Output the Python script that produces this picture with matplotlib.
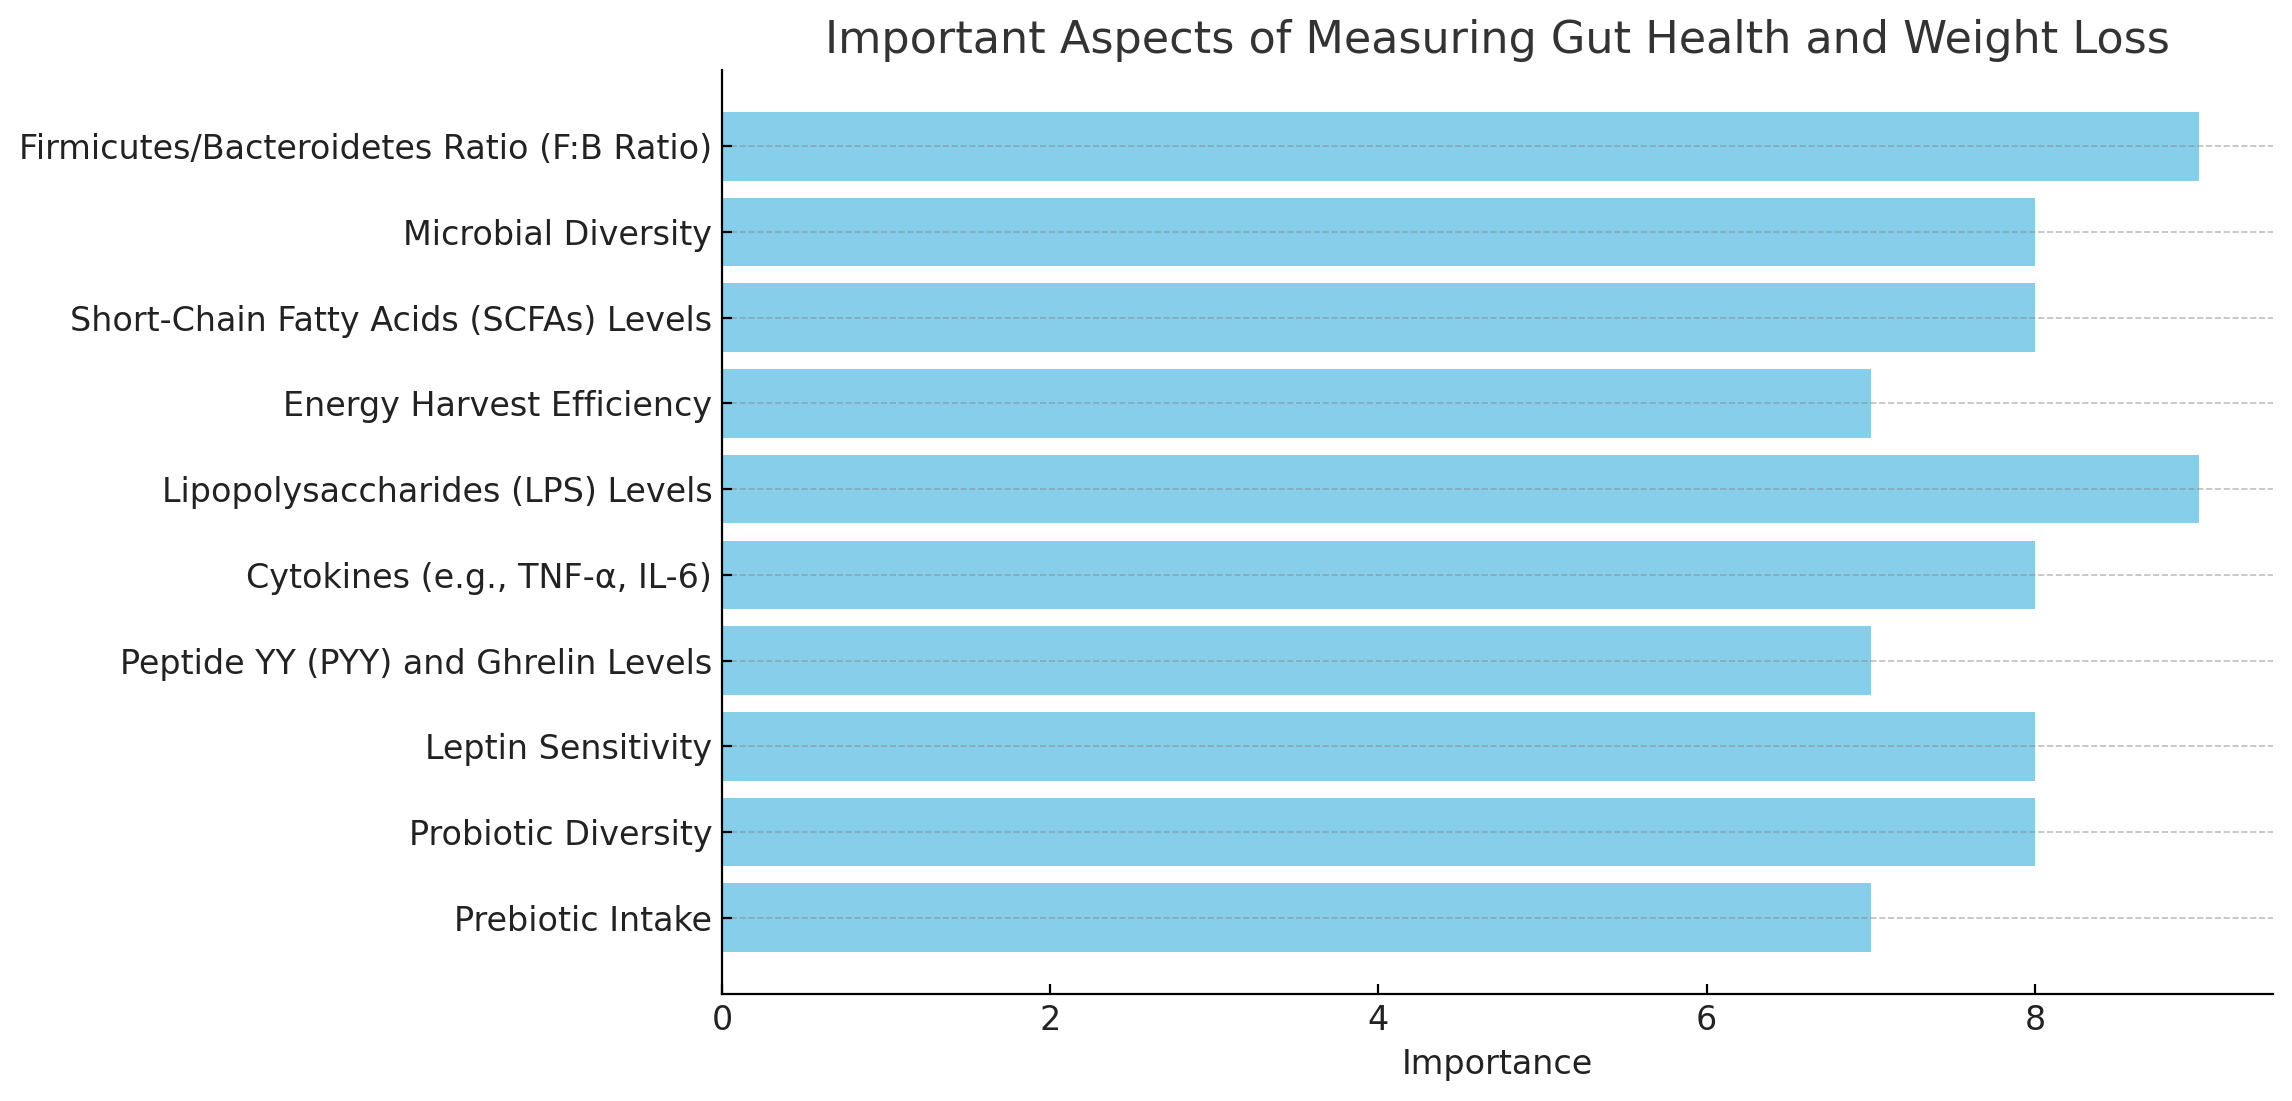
import matplotlib
matplotlib.use('Agg')
import matplotlib.pyplot as plt

aspects = [
    'Firmicutes/Bacteroidetes Ratio (F:B Ratio)',
    'Microbial Diversity',
    'Short-Chain Fatty Acids (SCFAs) Levels',
    'Energy Harvest Efficiency',
    'Lipopolysaccharides (LPS) Levels',
    'Cytokines (e.g., TNF-α, IL-6)',
    'Peptide YY (PYY) and Ghrelin Levels',
    'Leptin Sensitivity',
    'Probiotic Diversity',
    'Prebiotic Intake',
]
importance = [9, 8, 8, 7, 9, 8, 7, 8, 8, 7]

################################################################################

fig, ax = plt.subplots(figsize=(11.46, 5.505), dpi=200)
fig.subplots_adjust(left=0.315, right=0.9917, top=0.9364, bottom=0.0972)

ax.barh(aspects, importance, color='skyblue')
ax.invert_yaxis()

ax.set_xlabel('Importance', fontsize=12, color='#222222')
ax.set_title('Important Aspects of Measuring Gut Health and Weight Loss',
             fontsize=16, color='#333333')
ax.tick_params(labelsize=12, labelcolor='#222222', direction='in')

ax.grid(axis='y', linestyle='--', color='gray', alpha=0.5, linewidth=0.6)
ax.spines['top'].set_visible(False)
ax.spines['right'].set_visible(False)

fig.savefig('out.png')
